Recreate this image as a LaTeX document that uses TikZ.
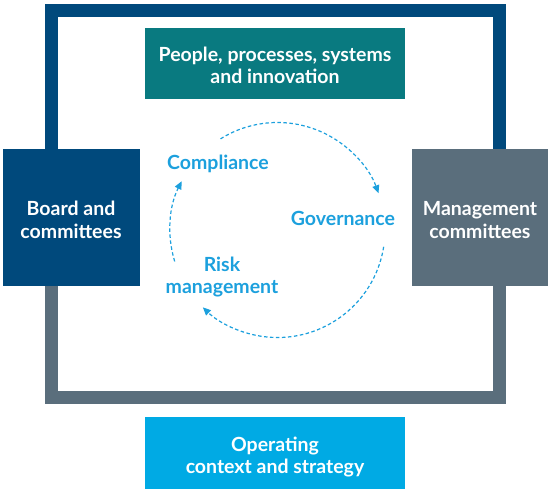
\documentclass[tikz,border=0pt]{standalone}
\usepackage{fontspec}
\setmainfont{Lato}
\usetikzlibrary{positioning, arrows.meta, calc}
\definecolor{tteal}{RGB}{9,122,128}
\definecolor{tnavy}{RGB}{0,73,124}
\definecolor{tslate}{RGB}{90,110,124}
\definecolor{tcyan}{RGB}{0,170,228}
\definecolor{tlabel}{RGB}{28,160,221}

\begin{document}
\begin{tikzpicture}[x=1pt, y=1pt, every node/.style={font=\fontsize{19.5}{22.5}\selectfont\bfseries},
        blk/.style={text=white, align=center, inner sep=0pt, text height=45pt, text depth=4pt, minimum width=260pt, minimum height=71pt},
        side/.style={blk, minimum width=137pt, minimum height=136pt},
        lbl/.style={text=tlabel, align=center, inner sep=0pt},
        cyc/.style={tlabel, line width=1.2pt, dash pattern=on 3.5pt off 2.5pt, -{Triangle[length=8pt, width=7pt]}}]
      \useasboundingbox (0,0) rectangle (552,491);

      % frame: navy on top, slate below, split behind the side boxes
      \coordinate (fl) at (51.5,274);
      \coordinate (fr) at (499.5,274);
      \draw[tnavy, line width=13pt] (fl) |- (275,480.5) -| (fr);
      \draw[tslate, line width=13pt] (fl) |- (275,93.5) -| (fr);

      \node[blk, fill=tteal] (ppl) at (275,427.5) {People, processes, systems\\and innovation};
      \node[blk, fill=tcyan, minimum height=72pt] (ops) at (275,38) {Operating\\context and strategy};
      \node[side, fill=tnavy] (board) at (71,273.5) {Board and\\committees};
      \node[side, fill=tslate, minimum width=136pt] (mgmt) at (480,273.5) {Management\\committees};

      % cycle of three labels
      \coordinate (c) at (277.5,261);
      \node[lbl] (comp) at (218,327) {Compliance};
      \node[lbl] (gov) at (343,273) {Governance};
      \node[lbl] (risk) at (222,214) {Risk\\management};
      \draw[cyc] ($(c)+(122:107.5)$) arc[start angle=122, end angle=20, radius=107.5];
      \draw[cyc] ($(c)+(-9:107.5)$) arc[start angle=-9, end angle=-134, radius=107.5];
      \draw[cyc] ($(c)+(197:107.5)$) arc[start angle=197, end angle=153, radius=107.5];
    \end{tikzpicture}
\end{document}
